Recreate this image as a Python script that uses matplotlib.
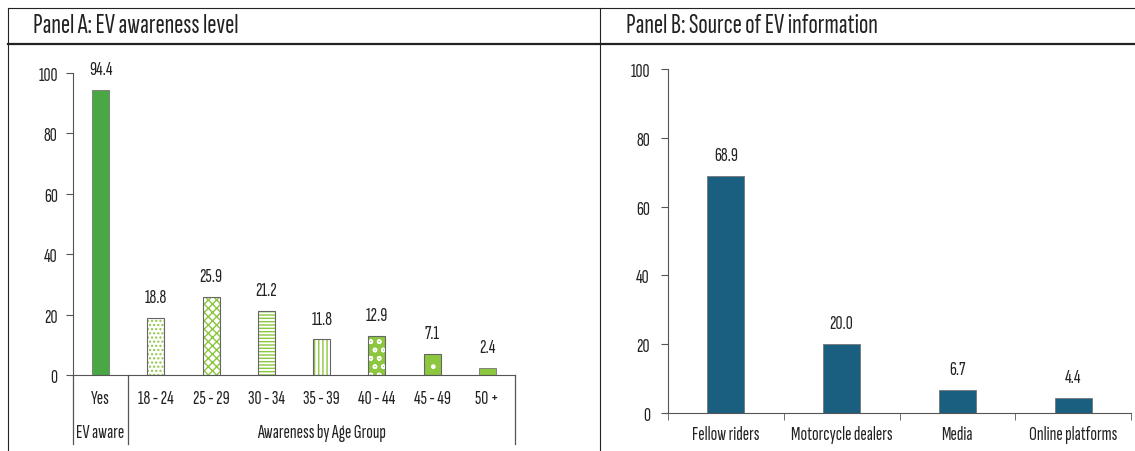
import matplotlib.pyplot as plt
from matplotlib.lines import Line2D
import numpy as np

# Panel A: awareness
aware_labels = ['Yes', '18 - 24', '25 - 29', '30 - 34', '35 - 39', '40 - 44', '45 - 49', '50 +']
aware_values = [94.4, 18.8, 25.9, 21.2, 11.8, 12.9, 7.1, 2.4]

# Panel B: information source
source_labels = ['Fellow riders', 'Motorcycle dealers', 'Media', 'Online platforms']
source_values = [68.9, 20.0, 6.7, 4.4]

plt.rcParams['font.family'] = ['Sofia Sans Extra Condensed', 'Pathway Gothic One', 'DejaVu Sans']
plt.rcParams['hatch.linewidth'] = 1.0

W, H = 1135, 452
dark_green = '#49a744'
light_green = '#8dc63f'
blue = '#1a5e80'
axis_gray = '#555555'
txt = '#222222'
fs = 14

fig = plt.figure(figsize=(W / 100, H / 100), dpi=100)


def px_axes(x0, x1, y_top, y_bot):
    return fig.add_axes([x0 / W, 1 - y_bot / H, (x1 - x0) / W, (y_bot - y_top) / H])


def fig_line(xs, ys, lw=1.0, color='#222222'):
    fig.add_artist(Line2D([x / W for x in xs], [1 - y / H for y in ys],
                          transform=fig.transFigure, color=color, lw=lw))


# frame and title strips
fig_line([8, W], [9, 9], lw=0.8)
fig_line([8, 8], [9, H], lw=0.8)
fig_line([600, 600], [9, H], lw=0.8)
fig_line([8, W], [45, 45], lw=1.6)
fig.text(33 / W, 1 - 26 / H, 'Panel A: EV awareness level', fontsize=20, va='center', ha='left', color=txt)
fig.text(626 / W, 1 - 26 / H, 'Panel B: Source of EV information', fontsize=20, va='center', ha='left', color=txt)


def value_label(a, xi, v):
    a.annotate(f'{v:.1f}', (xi, v), xytext=(0, 15), textcoords='offset points',
               ha='center', va='center', fontsize=fs, color=txt)


# ---- Panel A ----
ax = px_axes(73, 515, 74, 376)
x = np.arange(len(aware_values))
bw = 0.31
# (face, hatch colour, hatch) per bar
styles = [
    (dark_green, None, None),
    ('white', light_green, '....'),
    ('white', light_green, 'xxxx'),
    ('white', light_green, '-----'),
    ('white', light_green, '||||'),
    (light_green, 'white', 'oo'),
    (light_green, 'white', '.'),
    (light_green, None, None),
]
for xi, v, (face, hcol, hatch) in zip(x, aware_values, styles):
    if hatch:
        ax.bar(xi, v, width=bw, color=face, edgecolor=hcol, hatch=hatch, linewidth=0)
        ax.bar(xi, v, width=bw, fill=False, edgecolor='#666666', linewidth=0.8)
    else:
        ax.bar(xi, v, width=bw, color=face, edgecolor='#777777', linewidth=0.6)
    value_label(ax, xi, v)

ax.set_xlim(-0.5, len(aware_values) - 0.5)
ax.set_ylim(0, 100)
ax.set_yticks(range(0, 101, 20))
ax.set_xticks(x)
ax.set_xticklabels(aware_labels)
ax.tick_params(axis='y', direction='out', length=5, color=axis_gray, labelsize=fs, pad=6, labelcolor=txt)
ax.tick_params(axis='x', length=0, labelsize=fs, pad=10, labelcolor=txt)
for s in ['top', 'right']:
    ax.spines[s].set_visible(False)
for s in ['left', 'bottom']:
    ax.spines[s].set_color(axis_gray)
ax.patch.set_visible(False)

# group separators below the axis
for xb in [-0.5, 0.5, len(aware_values) - 0.5]:
    ax.plot([xb, xb], [0, -23], color=axis_gray, lw=0.9, clip_on=False)
ax.text(0, -18.8, 'EV aware', ha='center', va='center', fontsize=fs, color=txt)
ax.text(4, -18.8, 'Awareness by Age Group', ha='center', va='center', fontsize=fs, color=txt)

# ---- Panel B ----
bx = px_axes(668, 1131, 70, 414)
xb = np.arange(len(source_values))
bx.bar(xb, source_values, width=0.32, color=blue, edgecolor='#777777', linewidth=0.6)
for xi, v in zip(xb, source_values):
    value_label(bx, xi, v)
bx.set_xlim(-0.5, len(source_values) - 0.5)
bx.set_ylim(0, 100)
bx.set_yticks(range(0, 101, 20))
bx.set_xticks(xb)
bx.set_xticklabels(source_labels)
bx.set_xticks(np.arange(-0.5, len(source_values), 1.0), minor=True)
bx.tick_params(axis='y', direction='out', length=5, color=axis_gray, labelsize=fs, pad=8, labelcolor=txt)
bx.tick_params(axis='x', which='major', length=0, labelsize=fs, pad=9, labelcolor=txt)
bx.tick_params(axis='x', which='minor', length=5, color=axis_gray)
for s in ['top', 'right']:
    bx.spines[s].set_visible(False)
for s in ['left', 'bottom']:
    bx.spines[s].set_color(axis_gray)
bx.patch.set_visible(False)

fig.savefig('out.png', dpi=100)
